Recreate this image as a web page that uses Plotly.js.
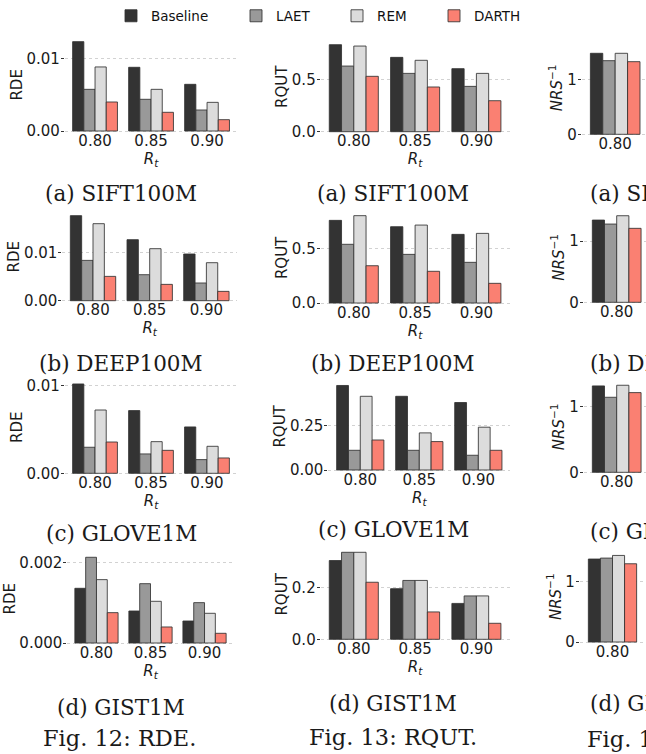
<!DOCTYPE html>
<html><head><meta charset="utf-8">
<script src="https://cdn.plot.ly/plotly-3.0.1.min.js"></script>
<style>html,body{margin:0;padding:0;background:#fff}#chart{width:646px;height:754px}</style>
</head><body><div id="chart"></div>
<script>
// ---------- data ----------
const rt = ['0.80', '0.85', '0.90'];
const rtVisible = ['0.80'];           // only this group of Fig. 14 is inside the cropped picture
const methods = ['Baseline', 'LAET', 'REM', 'DARTH'];

// Each panel: one row per method (Baseline, LAET, REM, DARTH), one value per Rt
// Fig. 12: RDE
const rdeSIFT100M = [[0.01229, 0.00876, 0.00642], [0.00573, 0.00436, 0.00289], [0.00881, 0.00573, 0.00394], [0.00399, 0.00257, 0.00156]];
const rdeDEEP100M = [[0.01759, 0.01262, 0.00966], [0.00834, 0.00538, 0.00366], [0.01593, 0.01076, 0.00786], [0.00503, 0.00338, 0.00193]];
const rdeGLOVE1M  = [[0.01019, 0.00715, 0.00529], [0.00297, 0.00221, 0.00156], [0.00722, 0.00361, 0.00308], [0.00357, 0.00262, 0.00175]];
const rdeGIST1M   = [[0.001355, 0.000793, 0.000545], [0.002124, 0.00147, 0.0010], [0.00157, 0.001033, 0.000736], [0.000752, 0.000397, 0.00024]];
// Fig. 13: RQUT
const rqutSIFT100M = [[0.831, 0.710, 0.602], [0.627, 0.557, 0.433], [0.818, 0.682, 0.557], [0.529, 0.427, 0.296]];
const rqutDEEP100M = [[0.756, 0.698, 0.628], [0.537, 0.445, 0.372], [0.799, 0.713, 0.637], [0.341, 0.290, 0.180]];
const rqutGLOVE1M  = [[0.476, 0.415, 0.380], [0.111, 0.111, 0.083], [0.415, 0.209, 0.241], [0.169, 0.160, 0.111]];
const rqutGIST1M   = [[0.305, 0.196, 0.139], [0.337, 0.228, 0.168], [0.337, 0.228, 0.168], [0.221, 0.106, 0.062]];
// Fig. 14: NRS^-1 (Rt = 0.80 only visible)
const nrsSIFT100M = [[1.473], [1.339], [1.473], [1.321]];
const nrsDEEP100M = [[1.342], [1.277], [1.413], [1.207]];
const nrsGLOVE1M  = [[1.315], [1.142], [1.325], [1.213]];
const nrsGIST1M   = [[1.376], [1.392], [1.436], [1.298]];

const rowCaptions = ['(a) SIFT100M', '(b) DEEP100M', '(c) GLOVE1M', '(d) GIST1M'];
const figCaptions = ['Fig. 12: RDE.', 'Fig. 13: RQUT.', 'Fig. 14: NRS<sup>−1</sup>.'];

// ---------- styling / geometry ----------
const W = 646, H = 754;
const colors = ['#333333', '#999999', '#dcdcdc', '#fa8072'];
const edge = 'rgba(50,50,50,0.85)';
const sans = 'DejaVu Sans, sans-serif';
const serif = 'DejaVu Serif, serif';
const legendWidths = [80, 56, 52, 50];
const ZPAD = 1.5; // px of room below zero so the dotted zero grid line is drawn

const RT_TITLE = '<i>R</i><sub><i>t</i></sub>';
const NRS_TITLE = '<i>NRS</i><sup>−1</sup>';

// panel geometry in pixels: [left, right, top, bottom(zero line)]
const panels = [
  {data: rdeSIFT100M,  cats: rt, yt: 'RDE',  dtick: 0.01,  fmt: '.2f', ytop: 0.0129,  xr: [-0.54, 2.54],  px: [64.8, 237.3, 37.2, 131.0]},
  {data: rqutSIFT100M, cats: rt, yt: 'RQUT', dtick: 0.5,   fmt: '.1f', ytop: 0.873,   xr: [-0.54, 2.54],  px: [320.7, 509.5, 40.3, 131.7]},
  {data: nrsSIFT100M,  cats: rtVisible, yt: NRS_TITLE, dtick: 1, fmt: 'd', ytop: 1.715, xr: [-0.54, 0.497], px: [581.7, 646, 40, 134.3]},
  {data: rdeDEEP100M,  cats: rt, yt: 'RDE',  dtick: 0.01,  fmt: '.2f', ytop: 0.01847, xr: [-0.54, 2.54],  px: [62.4, 237.0, 211.4, 300.7]},
  {data: rqutDEEP100M, cats: rt, yt: 'RQUT', dtick: 0.5,   fmt: '.1f', ytop: 0.839,   xr: [-0.54, 2.54],  px: [320.7, 509.5, 211.3, 303.0]},
  {data: nrsDEEP100M,  cats: rtVisible, yt: NRS_TITLE, dtick: 1, fmt: 'd', ytop: 1.49, xr: [-0.54, 0.481], px: [583.8, 646, 211, 302.3]},
  {data: rdeGLOVE1M,   cats: rt, yt: 'RDE',  dtick: 0.01,  fmt: '.2f', ytop: 0.0107,  xr: [-0.54, 2.54],  px: [64.8, 237.2, 379.5, 473.3]},
  {data: rqutGLOVE1M,  cats: rt, yt: 'RQUT', dtick: 0.25,  fmt: '.2f', ytop: 0.4995,  xr: [-0.54, 2.54],  px: [328.4, 510.2, 381.3, 470.0]},
  {data: nrsGLOVE1M,   cats: rtVisible, yt: NRS_TITLE, dtick: 1, fmt: 'd', ytop: 1.405, xr: [-0.54, 0.481], px: [583.8, 646, 380, 472.3]},
  {data: rdeGIST1M,    cats: rt, yt: 'RDE',  dtick: 0.002, fmt: '.3f', ytop: 0.00223, xr: [-0.54, 2.54],  px: [67.3, 233.7, 553, 643]},
  {data: rqutGIST1M,   cats: rt, yt: 'RQUT', dtick: 0.2,   fmt: '.1f', ytop: 0.354,   xr: [-0.54, 2.54],  px: [320.7, 509.5, 547.9, 639.3]},
  {data: nrsGIST1M,    cats: rtVisible, yt: NRS_TITLE, dtick: 1, fmt: 'd', ytop: 1.526, xr: [-0.54, 0.555], px: [579.9, 646, 550, 642]}
];

const traces = [];
const layout = {
  width: W, height: H,
  margin: {l: 0, r: 0, t: 0, b: 0},
  paper_bgcolor: '#fff', plot_bgcolor: '#fff',
  barmode: 'group', bargap: 0.2, bargroupgap: 0,
  font: {family: sans, size: 15, color: '#1a1a1a'},
  showlegend: true,
  legend: {orientation: 'h', x: 111 / W, xanchor: 'left', y: 1 - 16 / H, yanchor: 'middle',
           font: {family: sans, size: 13.5, color: '#111'}, bgcolor: 'rgba(0,0,0,0)', borderwidth: 0},
  annotations: []
};

panels.forEach((p, i) => {
  const k = i === 0 ? '' : String(i + 1);
  const col = i % 3;
  p.data.forEach((vals, m) => {
    traces.push({
      type: 'bar', x: p.cats, y: vals, name: methods[m],
      xaxis: 'x' + k, yaxis: 'y' + k,
      marker: {color: colors[m], line: {color: edge, width: 1}},
      showlegend: i === 0, legendgroup: methods[m], legendwidth: legendWidths[m],
      hoverinfo: 'skip'
    });
  });
  const [l, r, t, b] = p.px;
  const ymin = -ZPAD * p.ytop / (b - t);
  const xa = {
    domain: [l / W, Math.min(1, r / W)], anchor: 'y' + k,
    type: 'category', range: p.xr, showgrid: false, zeroline: false, showline: false,
    ticks: '', tickfont: {family: sans, size: 15, color: '#1a1a1a'}, ticklabelstandoff: -3,
    fixedrange: true
  };
  if (col !== 2) xa.title = {text: RT_TITLE, standoff: 1, font: {family: sans, size: 15}};
  layout['xaxis' + k] = xa;
  layout['yaxis' + k] = {
    domain: [1 - (b + ZPAD) / H, 1 - t / H], anchor: 'x' + k,
    range: [ymin, p.ytop], dtick: p.dtick, tick0: 0, tickformat: p.fmt,
    showgrid: true, gridcolor: '#d2d2d2', griddash: 'dot', gridwidth: 1,
    zeroline: false, showline: false,
    ticks: 'outside', ticklen: 3, tickcolor: '#333', tickwidth: 1,
    ticklabelstandoff: -2,
    tickfont: {family: sans, size: 15, color: '#1a1a1a'},
    title: {text: p.yt, standoff: 0, font: {family: sans, size: 15}},
    fixedrange: true
  };
});

// sub-figure captions
const capY = [[193, 193, 193], [363, 363, 363], [533, 529, 531], [707, 703, 703]];
const capX = [121, 393, 588];
rowCaptions.forEach((txt, r) => {
  [0, 1, 2].forEach(c => {
    layout.annotations.push({
      text: txt, xref: 'paper', yref: 'paper', showarrow: false,
      x: capX[c] / W, y: 1 - capY[r][c] / H,
      xanchor: c === 2 ? 'left' : 'center', yanchor: 'middle',
      font: {family: serif, size: 21.5, color: '#1a1a1a'}
    });
  });
});
const figY = [738, 737, 737];
const figX = [119, 393, 585];
figCaptions.forEach((txt, c) => {
  layout.annotations.push({
    text: txt, xref: 'paper', yref: 'paper', showarrow: false,
    x: figX[c] / W, y: 1 - figY[c] / H,
    xanchor: c === 2 ? 'left' : 'center', yanchor: 'middle',
    font: {family: serif, size: 22.5, color: '#1a1a1a'}
  });
});

Plotly.newPlot('chart', traces, layout, {staticPlot: true, displayModeBar: false});
</script>
</body></html>
